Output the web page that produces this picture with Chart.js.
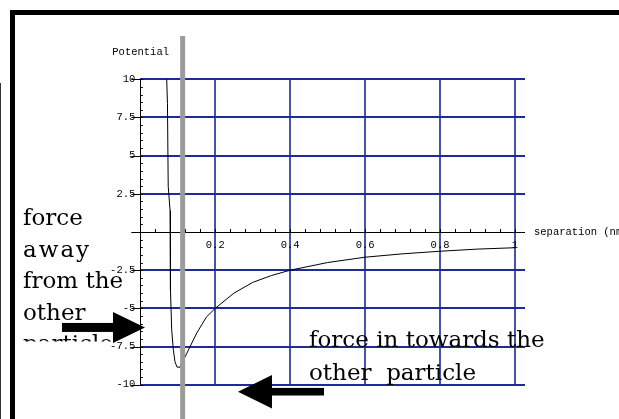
<!DOCTYPE html>
<html>
<head>
<meta charset="utf-8">
<title>Potential vs separation</title>
<script src="https://cdn.jsdelivr.net/npm/chart.js@4.4.1/dist/chart.umd.min.js"></script>
<style>
  html, body { margin: 0; padding: 0; background: #fff; }
  #wrap { position: relative; width: 619px; height: 419px; overflow: hidden; }
  #wrap canvas { position: absolute; left: 0; top: 0; }
  .frame { position: absolute; left: 10px; top: 10px; width: 700px; height: 500px;
           border-top: 5px solid #000; border-left: 5px solid #000; }
  .edge { position: absolute; left: 0; top: 83px; width: 1px; height: 400px; background: #333; }
</style>
</head>
<body>
<div id="wrap">
  <canvas id="chartPotential"></canvas>
  <div class="frame"></div>
  <div class="edge"></div>
</div>
<script>
// separation (nm) and potential
const separation = [0.0705, 0.0725, 0.0745, 0.0795, 0.0805, 0.0838, 0.0881, 0.0926, 0.098, 0.106,
                    0.119, 0.133, 0.151, 0.177, 0.2, 0.25, 0.3, 0.35, 0.4, 0.5,
                    0.6, 0.7, 0.8, 0.9, 1.0];
const potential = [10, 8.4, 3.0, 1.4, -3.8, -6.4, -7.7, -8.5, -8.85, -8.85,
                   -8.2, -7.5, -6.6, -5.55, -5.0, -4.0, -3.3, -2.85, -2.5, -2.0,
                   -1.65, -1.43, -1.26, -1.12, -1.03];

const xTicks = [0.2, 0.4, 0.6, 0.8, 1];
const yTicks = [10, 7.5, 5, 2.5, -2.5, -5, -7.5, -10];

// equilibrium marker and the two force arrows (tips in axis units)
const markerSep = 0.113;
const arrows = [
  { sep: 0.0125, pot: -6.25, dir: 1, headLen: 32, headHalf: 15.5, shaftLen: 51, shaftHalf: 4.5 },
  { sep: 0.2607, pot: -10.46, dir: -1, headLen: 34, headHalf: 16.7, shaftLen: 51, shaftHalf: 3.8 }
];

const leftNote = ["force", "away", "from the", "other", "particle"];
const rightNote = ["force in towards the", "other  particle"];

const monoFont = "10.5px 'Liberation Mono', 'DejaVu Sans Mono', monospace";
const serifFont = "23px 'DejaVu Serif', serif";

const overlay = {
  id: "overlay",
  afterDatasetsDraw(chart) {
    const ctx = chart.ctx;
    const xs = chart.scales.x, ys = chart.scales.y;
    const area = chart.chartArea;
    const ax = xs.getPixelForValue(0);
    const ay = ys.getPixelForValue(0);

    ctx.save();
    ctx.strokeStyle = "#000";
    ctx.lineWidth = 1;

    // axis lines
    ctx.beginPath();
    ctx.moveTo(ax - 9, Math.round(ay) + 0.5);
    ctx.lineTo(area.right, Math.round(ay) + 0.5);
    ctx.moveTo(Math.round(ax) + 0.5, area.top);
    ctx.lineTo(Math.round(ax) + 0.5, area.bottom);
    ctx.stroke();

    // minor ticks
    ctx.beginPath();
    for (let i = 1; i * 0.04 <= 1.0001; i++) {
      const px = Math.round(xs.getPixelForValue(i * 0.04)) + 0.5;
      ctx.moveTo(px, ay);
      ctx.lineTo(px, ay - 3);
    }
    for (let i = -20; i <= 20; i++) {
      const py = Math.round(ys.getPixelForValue(i * 0.5)) + 0.5;
      ctx.moveTo(ax, py);
      ctx.lineTo(ax + 2.5, py);
    }
    // major y ticks
    yTicks.forEach(v => {
      const py = Math.round(ys.getPixelForValue(v)) + 0.5;
      ctx.moveTo(ax - 9, py);
      ctx.lineTo(ax, py);
    });
    ctx.stroke();

    // tick labels and axis titles
    ctx.fillStyle = "#000";
    ctx.font = monoFont;
    ctx.textBaseline = "middle";
    ctx.textAlign = "right";
    yTicks.forEach(v => ctx.fillText(String(v), ax - 5, ys.getPixelForValue(v)));
    ctx.textAlign = "center";
    xTicks.forEach(v => ctx.fillText(String(v), xs.getPixelForValue(v), ay + 13));
    ctx.textAlign = "left";
    ctx.fillText("Potential", ax - 28, area.top - 27);
    ctx.fillText("separation (nm)", area.right + 9, ay);

    // vertical marker
    ctx.strokeStyle = "#9b9b9b";
    ctx.lineWidth = 5;
    const mx = xs.getPixelForValue(markerSep);
    ctx.beginPath();
    ctx.moveTo(mx, 36);
    ctx.lineTo(mx, chart.height);
    ctx.stroke();

    // notes
    ctx.font = serifFont;
    ctx.textBaseline = "alphabetic";
    ctx.save();
    ctx.beginPath();
    ctx.rect(15, 15, 130, 326.5);
    ctx.clip();
    leftNote.forEach((t, i) => {
      ctx.letterSpacing = t === "away" ? "2px" : "0px";
      ctx.fillText(t, 23, 225 + i * 31.6);
    });
    ctx.restore();
    ctx.letterSpacing = "0px";
    rightNote.forEach((t, i) => ctx.fillText(t, 309, 346.7 + i * 33.3));

    // arrows
    arrows.forEach(a => {
      const tx = xs.getPixelForValue(a.sep);
      const ty = ys.getPixelForValue(a.pot);
      const bx = tx - a.dir * a.headLen;
      ctx.beginPath();
      ctx.moveTo(tx, ty);
      ctx.lineTo(bx, ty - a.headHalf);
      ctx.lineTo(bx, ty + a.headHalf);
      ctx.closePath();
      ctx.fill();
      const sx = a.dir > 0 ? bx - a.shaftLen : bx;
      ctx.fillRect(sx, ty - a.shaftHalf, a.shaftLen + 1, a.shaftHalf * 2);
    });
    ctx.restore();
  }
};

new Chart(document.getElementById("chartPotential"), {
  type: "line",
  data: {
    datasets: [{
      data: separation.map((x, i) => ({ x, y: potential[i] })),
      borderColor: "#000",
      borderWidth: 1,
      pointRadius: 0,
      tension: 0,
      fill: false
    }]
  },
  options: {
    responsive: true,
    maintainAspectRatio: false,
    animation: false,
    layout: { padding: { left: 140.3, top: 79.3, right: 94, bottom: 34.3 } },
    plugins: { legend: { display: false }, tooltip: { enabled: false } },
    scales: {
      x: {
        type: "linear",
        min: 0,
        max: 1.0267,
        afterBuildTicks: s => { s.ticks = xTicks.map(v => ({ value: v })); },
        ticks: { display: false },
        grid: { color: "#4652ac", lineWidth: 2, drawTicks: false },
        border: { display: false }
      },
      y: {
        type: "linear",
        min: -10,
        max: 10,
        afterBuildTicks: s => { s.ticks = yTicks.map(v => ({ value: v })); },
        ticks: { display: false },
        grid: { color: "#1f2a98", lineWidth: 2, drawTicks: false },
        border: { display: false }
      }
    }
  },
  plugins: [overlay]
});
</script>
</body>
</html>
